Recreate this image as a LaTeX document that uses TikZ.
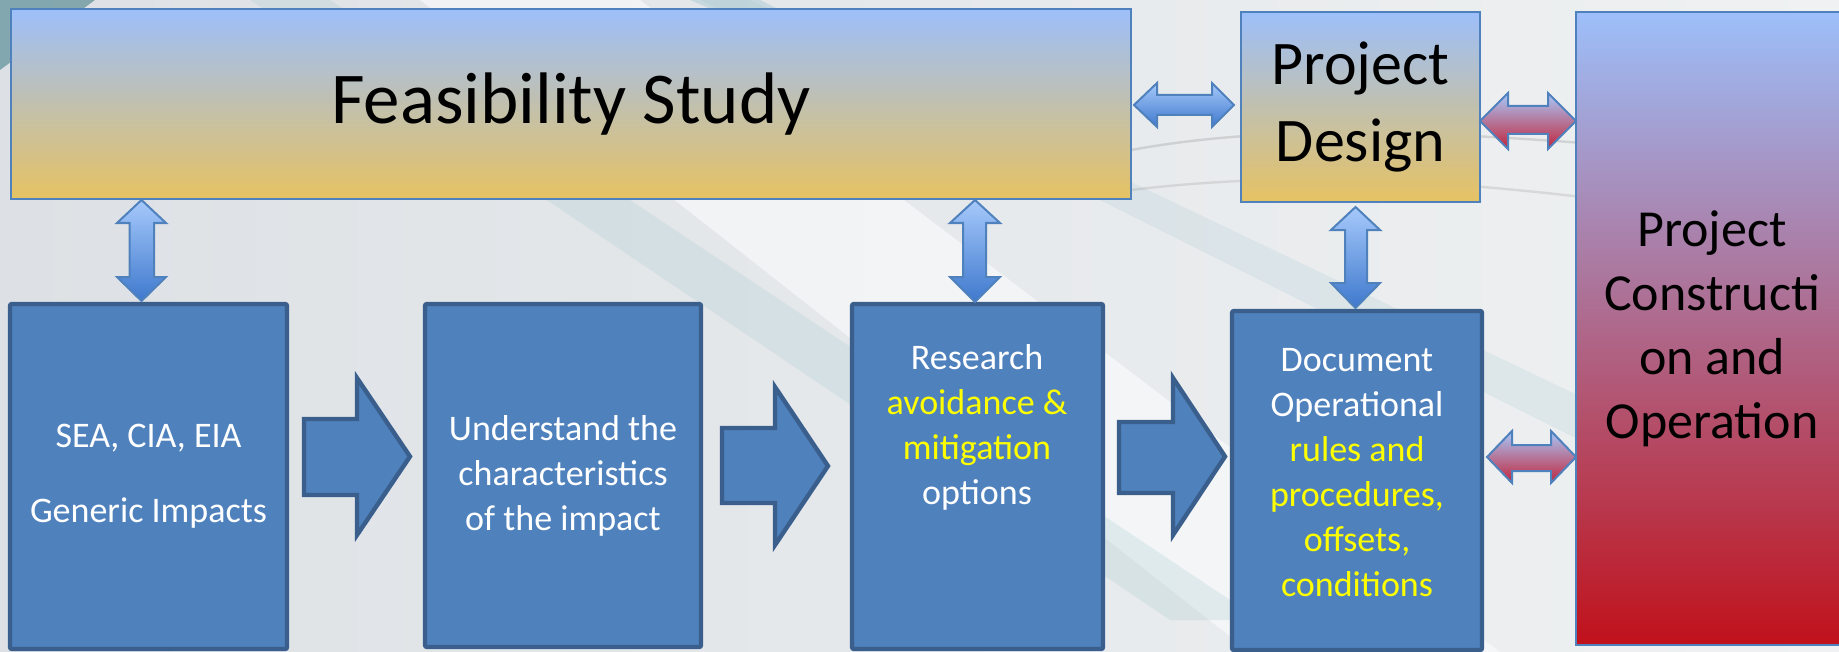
\documentclass[tikz,border=0pt]{standalone}
\usepackage{fontspec}
\setmainfont{Carlito}
\usetikzlibrary{calc}
\definecolor{boxblue}{HTML}{4F81BD}
\definecolor{boxedge}{HTML}{3A5F8C}
\definecolor{txtyellow}{HTML}{FFFF00}
\definecolor{lightblue}{HTML}{9DBFFA}
\definecolor{midpink}{HTML}{CBBAC0}
\definecolor{gold}{HTML}{E6C263}
\definecolor{pcmid}{HTML}{B08BB8}
\definecolor{pcred}{HTML}{C0111B}
\definecolor{arrlight}{HTML}{A6C9FB}
\definecolor{arrdark}{HTML}{3F79CD}
\definecolor{arrred}{HTML}{C3243A}
\definecolor{arredge}{HTML}{4F81BD}
\definecolor{bgL}{HTML}{DDE1E5}
\definecolor{bgR}{HTML}{EFF1F2}
\definecolor{streak}{HTML}{9CC4CD}
\definecolor{darkstreak}{HTML}{5E8F97}
\newcommand\hdarrow[9]{\path[#1] (#2,{(#6+#9)/2}) -- (#3,#6) -- (#3,#7) -- (#4,#7) -- (#4,#6) -- (#5,{(#6+#9)/2}) -- (#4,#9) -- (#4,#8) -- (#3,#8) -- (#3,#9) -- cycle;}
\newcommand\vdarrow[9]{\path[#1] ({(#6+#9)/2},#2) -- (#6,#3) -- (#7,#3) -- (#7,#4) -- (#6,#4) -- ({(#6+#9)/2},#5) -- (#9,#4) -- (#8,#4) -- (#8,#3) -- (#9,#3) -- cycle;}
\newcommand\barrow[8]{\path[#1] (#2,#6) -- (#3,#6) -- (#3,#5) -- (#4,{(#5+#8)/2}) -- (#3,#8) -- (#3,#7) -- (#2,#7) -- cycle;}
\tikzset{
  bluebox/.style={draw=boxedge, line width=2.2pt, fill=boxblue, inner sep=0pt, rounded corners=1pt,
    text=white, align=center, font=\fontsize{18pt}{22.5pt}\selectfont},
  warmbox/.style={draw=arredge, line width=1pt, top color=lightblue, middle color=midpink, bottom color=gold, inner sep=0pt, align=center},
  redbox/.style={draw=arredge, line width=1pt, top color=lightblue, middle color=pcmid, bottom color=pcred, inner sep=0pt, align=center},
  blockarrow/.style={draw=boxedge, line width=2.2pt, fill=boxblue, line join=miter},
  bluedouble/.style={draw=arredge, line width=1pt, top color=arrlight, bottom color=arrdark},
  reddouble/.style={draw=arredge, line width=1pt, top color=arrlight, bottom color=arrred},
  bodytext/.style={text=white, align=center, font=\fontsize{18pt}{22.5pt}\selectfont},
}
\begin{document}
\begin{tikzpicture}[x=0.5pt,y=-0.5pt]
\useasboundingbox (0,0) rectangle (1839,652);
% background
\fill[left color=bgL, right color=bgR] (0,0) rectangle (1839,652);
\fill[white, opacity=0.5] (420,0) -- (640,0) -- (1500,652) -- (1250,652) -- cycle;
\fill[streak, opacity=0.22] (250,0) -- (330,0) -- (1260,620) -- (1170,620) -- cycle;
\fill[streak, opacity=0.18] (700,0) -- (750,0) -- (1839,520) -- (1839,570) -- cycle;
\fill[darkstreak, opacity=0.7] (0,0) -- (95,0) -- (0,70) -- cycle;
\fill[streak, opacity=0.4] (690,0) -- (760,0) -- (820,30) -- (760,30) -- cycle;
\draw[gray, opacity=0.25, line width=1.2pt] (1131,150) .. controls (1350,110) and (1600,150) .. (1839,160);
\draw[gray, opacity=0.2, line width=1.2pt] (1131,190) .. controls (1380,160) and (1600,200) .. (1839,230);

% top boxes
\node[warmbox, minimum width=560pt, minimum height=95pt, font=\fontsize{36.5pt}{44pt}\selectfont] (feas) at (571,104) {Feasibility Study};
\node[warmbox, minimum width=119.5pt, minimum height=95pt, font=\fontsize{31pt}{38.5pt}\selectfont] (pd) at (1360.5,107) {Project\\Design};
\node[redbox, minimum width=136pt, minimum height=316.5pt, font=\fontsize{26pt}{32pt}\selectfont] (pc) at (1712,328.5) {Project\\Constructi\\on and\\Operation};

% bottom boxes
\node[bluebox, minimum width=138.5pt, minimum height=172.5pt] (sea) at (148.5,476.5) {SEA, CIA, EIA\\[15pt]Generic Impacts};
\node[bluebox, minimum width=138pt, minimum height=171.5pt] (und) at (563,475.5) {Understand the\\characteristics\\of the impact};
\node[bluebox, minimum width=125.5pt, minimum height=172.5pt] (res) at (977.5,476.5) {};
\node[bluebox, minimum width=125pt, minimum height=169.5pt] (doc) at (1357,480.5) {};
\node[bodytext] (restext) at (977,427) {Research\\\textcolor{txtyellow}{avoidance \&}\\\textcolor{txtyellow}{mitigation}\\options};
\node[bodytext] (doctext) at (1357,473) {Document\\Operational\\\textcolor{txtyellow}{rules and}\\\textcolor{txtyellow}{procedures,}\\\textcolor{txtyellow}{offsets,}\\\textcolor{txtyellow}{conditions}};

% block arrows between bottom boxes
\barrow{blockarrow}{304}{357}{410}{378}{419}{495}{535}
\barrow{blockarrow}{722}{775}{828}{387}{428}{503}{545}
\barrow{blockarrow}{1119}{1173}{1225}{378}{422}{493}{535}

% vertical double arrows
\vdarrow{bluedouble}{200}{223}{277}{301}{117}{129.5}{154}{166}
\vdarrow{bluedouble}{200}{223}{277}{302}{950}{963}{986}{1000}
\vdarrow{bluedouble}{207}{230}{283}{308}{1331}{1345}{1367}{1380}

% horizontal double arrows
\hdarrow{bluedouble}{1134}{1157}{1212}{1234}{83}{95}{115}{127}
\hdarrow{reddouble}{1480}{1508}{1548}{1576}{93}{106}{134}{149}
\hdarrow{reddouble}{1487}{1512}{1551}{1576}{431}{445}{471}{483}
\end{tikzpicture}
\end{document}
